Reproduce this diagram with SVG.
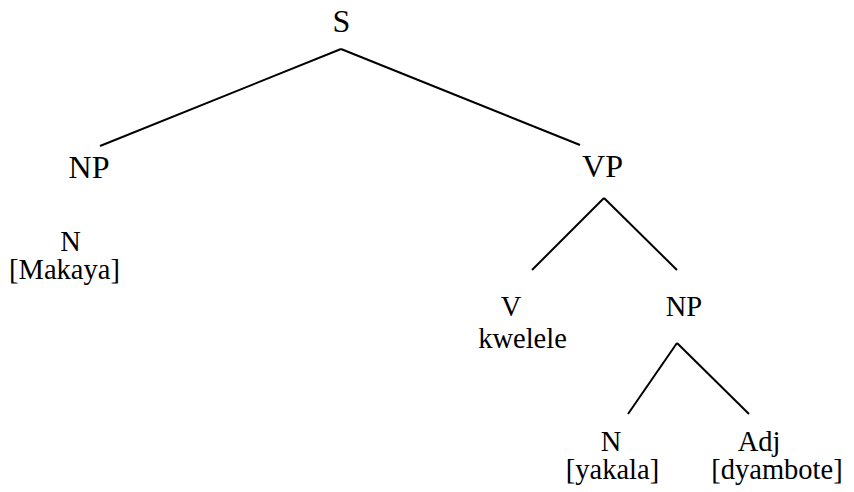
<svg xmlns="http://www.w3.org/2000/svg" width="854" height="492" viewBox="0 0 854 492">
<style>
text{font-family:"Liberation Serif","Times New Roman",serif;fill:#000;text-anchor:middle}
.big{font-size:32px}
.small{font-size:28.5px}
.edges line{stroke:#000;stroke-width:2;stroke-linecap:butt}
</style>
<rect width="854" height="492" fill="#fff"/>
<g class="edges" id="connectors">
<line x1="341" y1="49" x2="100" y2="146"/>
<line x1="341" y1="49" x2="580" y2="145"/>
<line x1="604" y1="198" x2="532" y2="270"/>
<line x1="604" y1="198" x2="677" y2="270"/>
<line x1="677" y1="343" x2="628" y2="414"/>
<line x1="677" y1="343" x2="749" y2="414"/>
</g>
<g id="S"><text class="big" x="341.5" y="32">S</text></g>
<g id="NP1"><text class="big" x="89" y="178">NP</text></g>
<g id="VP"><text class="big" x="602.5" y="177">VP</text></g>
<g id="N1"><text class="small" x="70.5" y="251">N</text><text class="small" x="64.5" y="279">[Makaya]</text></g>
<g id="V"><text class="small" x="511" y="316">V</text><text class="small" x="522.5" y="348">kwelele</text></g>
<g id="NP2"><text class="small" x="684" y="316">NP</text></g>
<g id="N2"><text class="small" x="611" y="451">N</text><text class="small" x="612.5" y="479">[yakala]</text></g>
<g id="Adj"><text class="small" x="759" y="451">Adj</text><text class="small" x="777" y="479">[dyambote]</text></g>
</svg>
